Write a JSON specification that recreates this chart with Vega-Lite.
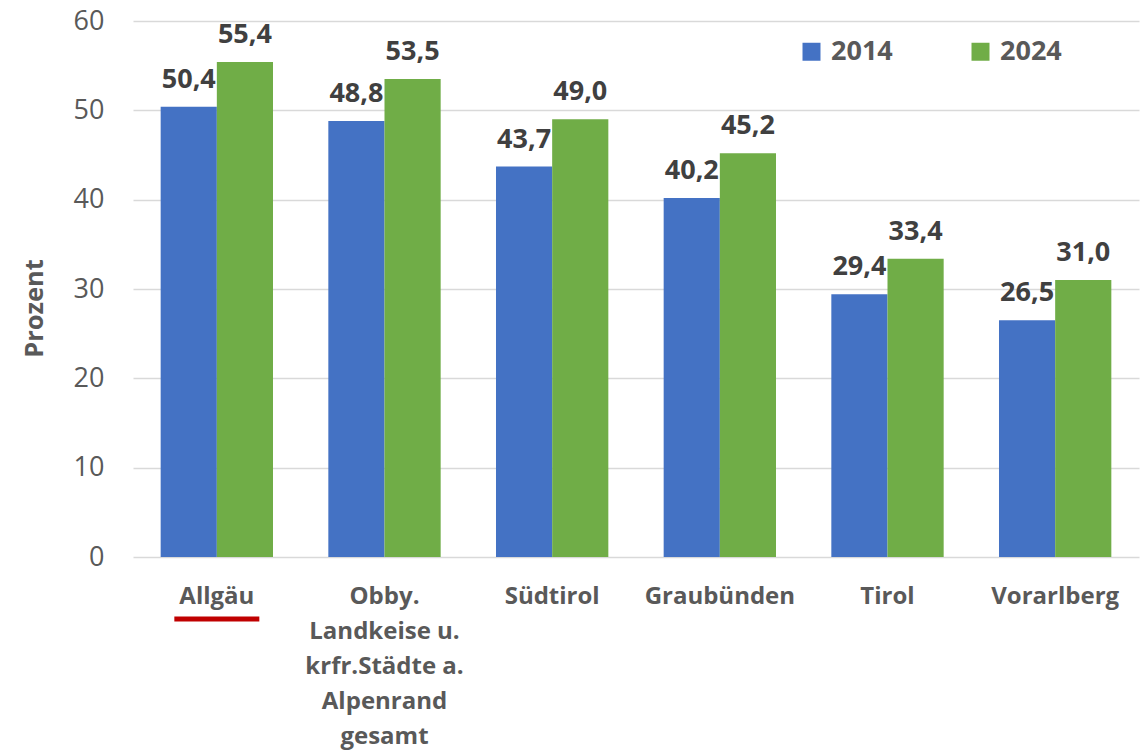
{
  "$schema": "https://vega.github.io/schema/vega-lite/v6.json",
  "autosize": "none",
  "width": 1006,
  "height": 536,
  "padding": {"left": 133, "top": 21, "right": 8, "bottom": 196},
  "background": "white",
  "config": {
    "font": "Open Sans",
    "view": {"stroke": null},
    "locale": {"number": {"decimal": ",", "thousands": ".", "grouping": [3], "currency": ["", " €"]}}
  },
  "datasets": {
    "bars": [
      {"cat": "Allgäu", "jahr": "2014", "wert": 50.4},
      {"cat": "Allgäu", "jahr": "2024", "wert": 55.4},
      {"cat": "Obby.|Landkeise u.|krfr.Städte a.|Alpenrand|gesamt", "jahr": "2014", "wert": 48.8},
      {"cat": "Obby.|Landkeise u.|krfr.Städte a.|Alpenrand|gesamt", "jahr": "2024", "wert": 53.5},
      {"cat": "Südtirol", "jahr": "2014", "wert": 43.7},
      {"cat": "Südtirol", "jahr": "2024", "wert": 49.0},
      {"cat": "Graubünden", "jahr": "2014", "wert": 40.2},
      {"cat": "Graubünden", "jahr": "2024", "wert": 45.2},
      {"cat": "Tirol", "jahr": "2014", "wert": 29.4},
      {"cat": "Tirol", "jahr": "2024", "wert": 33.4},
      {"cat": "Vorarlberg", "jahr": "2014", "wert": 26.5},
      {"cat": "Vorarlberg", "jahr": "2024", "wert": 31.0}
    ],
    "mark": [
      {"cat": "Allgäu", "wert": -6.94}
    ]
  },
  "layer": [
    {
      "data": {"name": "bars"},
      "mark": {"type": "bar"},
      "encoding": {
        "x": {
          "field": "cat", "type": "nominal", "sort": null,
          "scale": {"paddingInner": 0.33, "paddingOuter": 0.165},
          "axis": {
            "title": null, "domain": false, "ticks": false, "labelAngle": 0,
            "labelExpr": "split(datum.label, '|')",
            "labelFont": "Open Sans", "labelFontSize": 24, "labelFontWeight": "bold",
            "labelColor": "#595959", "labelLineHeight": 35, "labelPadding": 27,
            "labelBaseline": "top"
          }
        },
        "xOffset": {"field": "jahr", "type": "nominal"},
        "y": {
          "field": "wert", "type": "quantitative",
          "scale": {"domain": [0, 60], "nice": false},
          "axis": {
            "title": "Prozent", "values": [0, 10, 20, 30, 40, 50, 60],
            "domain": false, "ticks": false,
            "gridColor": "#d9d9d9", "gridWidth": 1.5,
            "labelFont": "Open Sans", "labelFontSize": 27, "labelColor": "#595959", "labelPadding": 29,
            "titleFont": "Open Sans", "titleFontSize": 25.5, "titleFontWeight": "bold", "titleColor": "#595959",
            "titleX": -99, "titleY": 287, "titleAngle": -90, "titleBaseline": "middle", "titleAlign": "center"
          }
        },
        "color": {
          "field": "jahr", "type": "nominal",
          "scale": {"domain": ["2014", "2024"], "range": ["#4472C4", "#70AD47"]},
          "legend": {
            "title": null, "orient": "none", "direction": "horizontal",
            "legendX": 665, "legendY": 17,
            "symbolType": "square", "symbolSize": 324, "symbolStrokeWidth": 0,
            "labelFont": "Open Sans", "labelFontSize": 27, "labelFontWeight": "bold", "labelColor": "#595959",
            "labelOffset": 6, "columnPadding": 74
          }
        }
      }
    },
    {
      "data": {"name": "bars"},
      "mark": {"type": "text", "font": "Open Sans", "fontSize": 27, "fontWeight": "bold", "color": "#404040", "baseline": "alphabetic", "dy": -19},
      "encoding": {
        "x": {"field": "cat", "type": "nominal", "sort": null},
        "xOffset": {"field": "jahr", "type": "nominal"},
        "y": {"field": "wert", "type": "quantitative"},
        "text": {"field": "wert", "type": "quantitative", "format": ".1f"}
      }
    },
    {
      "data": {"name": "mark"},
      "mark": {"type": "tick", "color": "#C00000", "thickness": 5, "size": 85, "orient": "horizontal", "opacity": 1},
      "encoding": {
        "x": {"field": "cat", "type": "nominal", "sort": null},
        "y": {"field": "wert", "type": "quantitative"}
      }
    }
  ]
}
